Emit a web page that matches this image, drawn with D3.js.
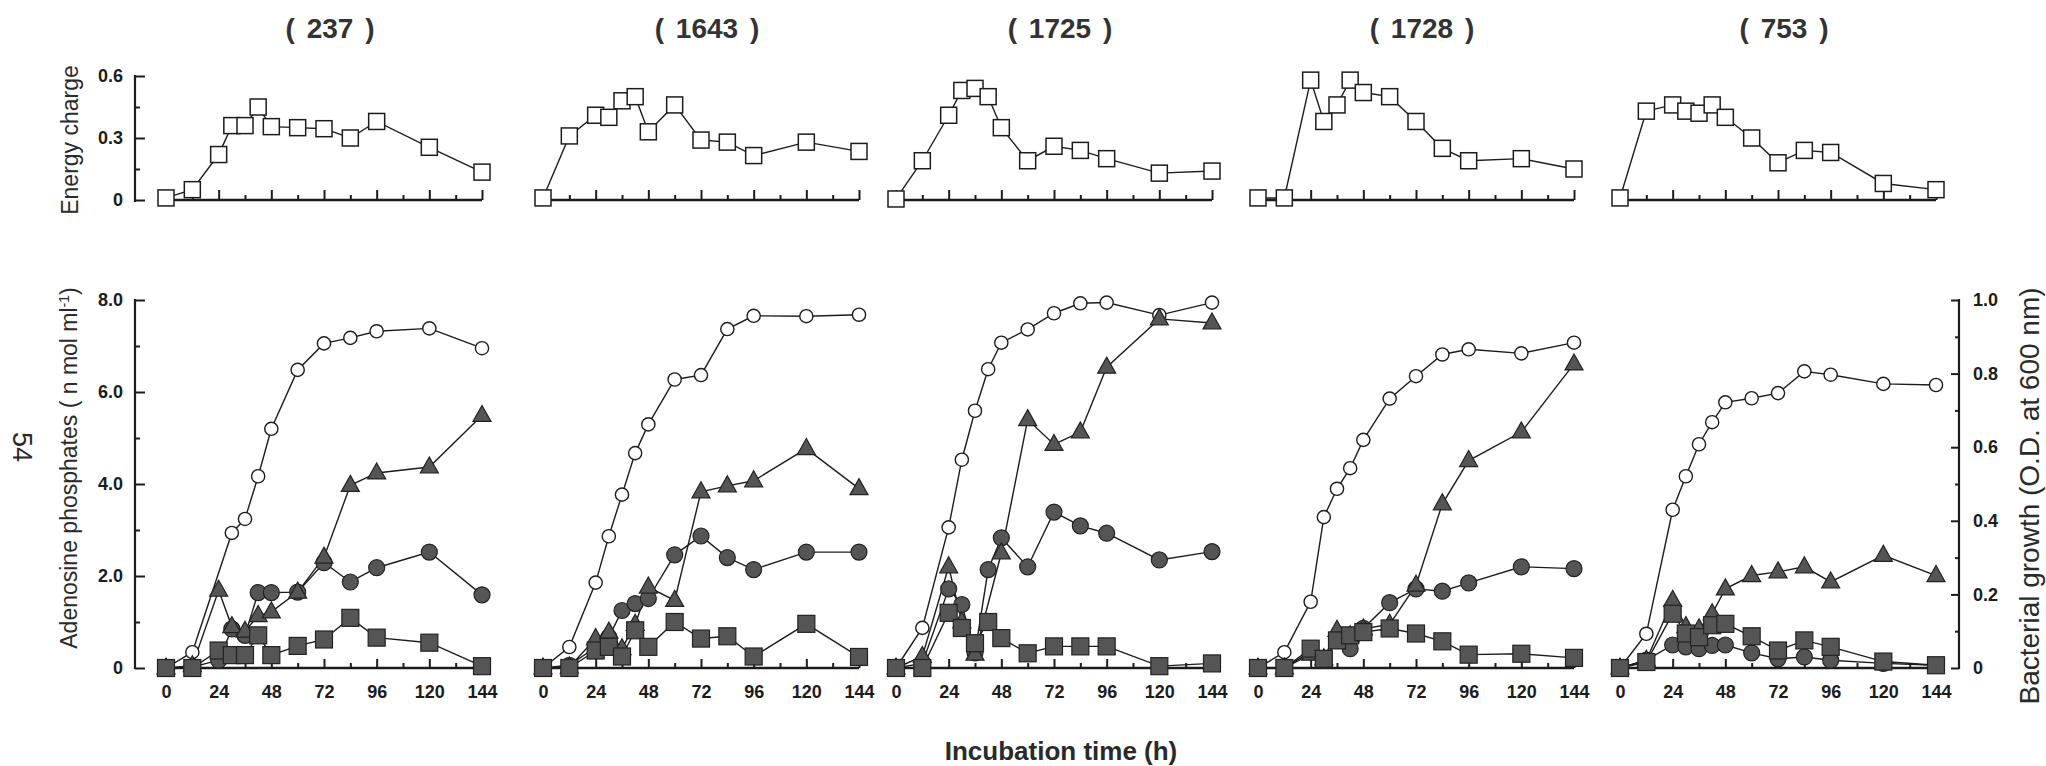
<!DOCTYPE html>
<html><head><meta charset="utf-8">
<script src="https://cdn.jsdelivr.net/npm/d3@7"></script>
<style>
body{margin:0;background:#fff;}
svg{display:block;font-family:"Liberation Sans",Arial,Helvetica,sans-serif;}
</style>
</head><body>
<svg id="chart" width="2046" height="766"></svg>
<script>
// ---------- data ----------
const strains = ["237", "1643", "1725", "1728", "753"];
const times = [0, 12, 24, 30, 36, 42, 48, 60, 72, 84, 96, 120, 144];

// energy charge (open squares, top row)
const energy237  = [0.01, 0.05, 0.22, 0.36, 0.36, 0.45, 0.355, 0.35, 0.345, 0.30, 0.38, 0.255, 0.135];
const energy1643 = [0.01, 0.31, 0.41, 0.40, 0.48, 0.50, 0.33, 0.46, 0.29, 0.28, 0.215, 0.28, 0.235];
const energy1725 = [0.005, 0.19, 0.41, 0.53, 0.54, 0.50, 0.35, 0.19, 0.26, 0.24, 0.20, 0.13, 0.14];
const energy1728 = [0.01, 0.01, 0.58, 0.38, 0.46, 0.58, 0.52, 0.50, 0.38, 0.25, 0.19, 0.20, 0.15];
const energy753  = [0.01, 0.43, 0.46, 0.43, 0.42, 0.46, 0.40, 0.30, 0.18, 0.24, 0.23, 0.08, 0.05];

// bacterial growth, O.D. at 600 nm (open circles, right axis)
const growth237  = [0, 0.043, null, 0.367, 0.405, 0.521, 0.65, 0.81, 0.882, 0.897, 0.915, 0.923, 0.869];
const growth1643 = [0, 0.057, 0.232, 0.358, 0.471, 0.584, 0.662, 0.784, 0.796, 0.921, 0.957, 0.956, 0.960];
const growth1725 = [0, 0.109, 0.382, 0.566, 0.699, 0.812, 0.884, 0.92, 0.964, 0.991, 0.993, 0.959, 0.993];
const growth1728 = [0, 0.043, 0.18, 0.41, 0.487, 0.543, 0.62, 0.732, 0.793, 0.852, 0.866, 0.855, 0.884];
const growth753  = [0, 0.093, 0.43, 0.521, 0.608, 0.668, 0.722, 0.733, 0.747, 0.806, 0.797, 0.772, 0.769];

// adenosine phosphates, nmol/ml (filled triangles / circles / squares, left axis)
const triangle237  = [0, 0.05, 1.69, 0.9, 0.8, 1.14, 1.22, 1.65, 2.41, 3.97, 4.24, 4.37, 5.49];
const triangle1643 = [0, 0.02, 0.64, 0.78, 0.42, 0.95, 1.76, 1.47, 3.83, 3.96, 4.07, 4.77, 3.90];
const triangle1725 = [0, 0.25, 2.2, 1.0, 0.3, null, 2.5, 5.4, 4.86, 5.13, 6.54, 7.59, 7.5];
const triangle1728 = [0, 0, 0.3, 0.2, 0.82, 0.7, 0.85, 0.95, 1.8, 3.57, 4.51, 5.13, 6.61];
const triangle753  = [0, 0.17, 1.47, 0.9, 0.85, 1.18, 1.72, 2.01, 2.09, 2.2, 1.87, 2.45, 2.01];

const circle237  = [0, 0.02, 0.17, 0.85, 0.71, 1.64, 1.64, 1.65, 2.29, 1.87, 2.18, 2.52, 1.59];
const circle1643 = [0, 0.06, 0.45, 0.67, 1.25, 1.40, 1.51, 2.46, 2.87, 2.40, 2.14, 2.52, 2.52];
const circle1725 = [0, 0.1, 1.72, 1.38, 0.33, 2.14, 2.83, 2.2, 3.39, 3.09, 2.93, 2.35, 2.53];
const circle1728 = [0, 0, 0.35, 0.17, 0.6, 0.42, 0.86, 1.42, 1.72, 1.67, 1.85, 2.2, 2.16];
const circle753  = [0, 0.17, 0.5, 0.46, 0.42, 0.49, 0.5, 0.33, 0.2, 0.24, 0.17, 0.1, 0.06];

const square237  = [0, 0, 0.38, 0.28, 0.28, 0.71, 0.28, 0.48, 0.62, 1.09, 0.66, 0.55, 0.04];
const square1643 = [0, 0, 0.38, 0.46, 0.25, 0.82, 0.46, 1.0, 0.64, 0.69, 0.25, 0.96, 0.24];
const square1725 = [0, 0, 1.2, 0.87, 0.54, 1.0, 0.65, 0.32, 0.47, 0.47, 0.47, 0.04, 0.1];
const square1728 = [0, 0, 0.42, 0.2, 0.6, 0.71, 0.78, 0.86, 0.75, 0.58, 0.29, 0.31, 0.22];
const square753  = [0, 0.13, 1.18, 0.75, 0.67, 0.93, 0.96, 0.69, 0.38, 0.6, 0.46, 0.14, 0.06];

// tick values / labels
const xMajorTicks = [0, 24, 48, 72, 96, 120, 144];
const xMinorTicks = [12, 36, 60, 84, 108, 132];
const energyTicks = [0, 0.3, 0.6];
const energyMinor = [0.15, 0.45];
const adenTicks = [0, 2, 4, 6, 8];
const adenMinor = [1, 3, 5, 7];
const growthTicks = [0, 0.2, 0.4, 0.6, 0.8, 1.0];
const growthMinor = [0.1, 0.3, 0.5, 0.7, 0.9];

const panels = [
  {name: strains[0], ec: energy237,  od: growth237,  tri: triangle237,  cir: circle237,  sq: square237},
  {name: strains[1], ec: energy1643, od: growth1643, tri: triangle1643, cir: circle1643, sq: square1643},
  {name: strains[2], ec: energy1725, od: growth1725, tri: triangle1725, cir: circle1725, sq: square1725},
  {name: strains[3], ec: energy1728, od: growth1728, tri: triangle1728, cir: circle1728, sq: square1728},
  {name: strains[4], ec: energy753,  od: growth753,  tri: triangle753,  cir: circle753,  sq: square753}
];

// ---------- layout ----------
const panelLeft = [166, 543, 896, 1258, 1620];
const panelW = 316;
const topY0 = 200, topY1 = 76;
const botY0 = 668, botY1 = 300;
const leftAxisX = 135;
const rightAxisX = 1959;
const INK = "#1c1c1c";
const FILL = "#555555";

const svg = d3.select("#chart");
const yTop = d3.scaleLinear().domain([0, 0.6]).range([topY0, topY1]);
const yBot = d3.scaleLinear().domain([0, 8]).range([botY0, botY1]);
const yOD = d3.scaleLinear().domain([0, 1]).range([botY0, botY1]);

function styleAxis(g, width) {
  g.selectAll(".domain").remove();
  g.selectAll(".tick line").attr("stroke", INK).attr("stroke-width", width);
  g.selectAll("text").attr("fill", INK).attr("font-size", 18).attr("font-weight", "bold");
}

function ptsOf(vals) {
  return times.map((t, i) => ({t: t, v: vals[i]})).filter(d => d.v !== null && d.v !== undefined);
}

function drawLine(g, x, y, vals) {
  g.append("path").datum(ptsOf(vals))
    .attr("d", d3.line().x(d => x(d.t)).y(d => y(d.v)))
    .attr("fill", "none").attr("stroke", INK).attr("stroke-width", 1.4);
}

function drawMarkers(g, x, y, vals, kind) {
  const sel = g.append("g").selectAll("g").data(ptsOf(vals)).join("g")
    .attr("transform", d => `translate(${x(d.t)},${y(d.v)})`);
  if (kind === "openSquare") {
    sel.append("rect").attr("x", -8).attr("y", -8).attr("width", 16).attr("height", 16)
      .attr("fill", "#fff").attr("stroke", INK).attr("stroke-width", 1.5);
  } else if (kind === "openCircle") {
    sel.append("circle").attr("r", 6.6).attr("fill", "#fff").attr("stroke", INK).attr("stroke-width", 1.4);
  } else if (kind === "filledCircle") {
    sel.append("circle").attr("r", 8).attr("fill", FILL).attr("stroke", "#222").attr("stroke-width", 1.2);
  } else if (kind === "triangle") {
    sel.append("path").attr("d", "M0,-10 L9,6 L-9,6 Z")
      .attr("fill", FILL).attr("stroke", "#222").attr("stroke-width", 1.2);
  } else if (kind === "filledSquare") {
    sel.append("rect").attr("x", -8.5).attr("y", -8.5).attr("width", 17).attr("height", 17)
      .attr("fill", FILL).attr("stroke", "#222").attr("stroke-width", 1.2);
  }
}

panels.forEach((p, i) => {
  const x0 = panelLeft[i];
  const x = d3.scaleLinear().domain([0, 144]).range([x0, x0 + panelW]);
  const g = svg.append("g");

  // title
  g.append("text").attr("x", x0 + panelW / 2 + 6).attr("y", 38)
    .attr("text-anchor", "middle").attr("font-size", 28).attr("font-weight", "bold")
    .attr("fill", "#333").attr("word-spacing", 4).text("( " + p.name + " )");

  // ---- top energy-charge plot ----
  const gt = g.append("g");
  gt.append("line").attr("x1", x(0)).attr("x2", x(144)).attr("y1", topY0).attr("y2", topY0)
    .attr("stroke", INK).attr("stroke-width", 2.6);
  gt.append("g").attr("transform", `translate(0,${topY0})`)
    .call(d3.axisBottom(x).tickValues(xMajorTicks).tickSize(-10).tickFormat(""))
    .call(a => styleAxis(a, 2));
  gt.append("g").attr("transform", `translate(0,${topY0})`)
    .call(d3.axisBottom(x).tickValues(xMinorTicks).tickSize(-5).tickFormat(""))
    .call(a => styleAxis(a, 2));
  drawLine(gt, x, yTop, p.ec);
  drawMarkers(gt, x, yTop, p.ec, "openSquare");

  // ---- bottom adenosine / growth plot ----
  const gb = g.append("g");
  gb.append("line").attr("x1", x(0)).attr("x2", x(144)).attr("y1", botY0).attr("y2", botY0)
    .attr("stroke", INK).attr("stroke-width", 2.6);
  gb.append("g").attr("transform", `translate(0,${botY0})`)
    .call(d3.axisBottom(x).tickValues(xMajorTicks).tickSize(-9).tickPadding(17).tickFormat(d3.format("d")))
    .call(a => styleAxis(a, 2));
  gb.append("g").attr("transform", `translate(0,${botY0})`)
    .call(d3.axisBottom(x).tickValues(xMinorTicks).tickSize(-5).tickFormat(""))
    .call(a => styleAxis(a, 2));

  drawLine(gb, x, yOD, p.od);
  drawLine(gb, x, yBot, p.cir);
  drawLine(gb, x, yBot, p.tri);
  drawLine(gb, x, yBot, p.sq);
  drawMarkers(gb, x, yOD, p.od, "openCircle");
  drawMarkers(gb, x, yBot, p.cir, "filledCircle");
  drawMarkers(gb, x, yBot, p.tri, "triangle");
  drawMarkers(gb, x, yBot, p.sq, "filledSquare");
});

// ---- left axes (first panel only) ----
const fmtTop = d => d === 0 ? "0" : d.toFixed(1);
const gTopAxis = svg.append("g").attr("transform", `translate(${leftAxisX},0)`);
gTopAxis.append("line").attr("x1", 0).attr("x2", 0).attr("y1", yTop(0.6) - 1).attr("y2", yTop(0) + 2)
  .attr("stroke", INK).attr("stroke-width", 2.2);
gTopAxis.append("g").call(d3.axisLeft(yTop).tickValues(energyTicks).tickSize(-10).tickPadding(12).tickFormat(fmtTop))
  .call(a => styleAxis(a, 2));
gTopAxis.append("g").call(d3.axisLeft(yTop).tickValues(energyMinor).tickSize(-5).tickFormat(""))
  .call(a => styleAxis(a, 2));

const gBotAxis = svg.append("g").attr("transform", `translate(${leftAxisX},0)`);
gBotAxis.append("line").attr("x1", 0).attr("x2", 0).attr("y1", yBot(8) - 1).attr("y2", yBot(0) + 1)
  .attr("stroke", INK).attr("stroke-width", 2.2);
gBotAxis.append("g").call(d3.axisLeft(yBot).tickValues(adenTicks).tickSize(-10).tickPadding(12).tickFormat(fmtTop))
  .call(a => styleAxis(a, 2));
gBotAxis.append("g").call(d3.axisLeft(yBot).tickValues(adenMinor).tickSize(-5).tickFormat(""))
  .call(a => styleAxis(a, 2));

// ---- right axis (last panel) ----
const gRight = svg.append("g").attr("transform", `translate(${rightAxisX},0)`);
gRight.append("line").attr("x1", 0).attr("x2", 0).attr("y1", yOD(1) - 1).attr("y2", yOD(0) + 1)
  .attr("stroke", INK).attr("stroke-width", 2.2);
gRight.append("g").call(d3.axisRight(yOD).tickValues(growthTicks).tickSize(-8).tickPadding(14).tickFormat(fmtTop))
  .call(a => styleAxis(a, 2));
gRight.append("g").call(d3.axisRight(yOD).tickValues(growthMinor).tickSize(-4).tickFormat(""))
  .call(a => styleAxis(a, 2));

// ---- axis titles ----
svg.append("text").attr("transform", "translate(78,140) rotate(-90)")
  .attr("text-anchor", "middle").attr("font-size", 23).attr("fill", "#2a2a2a").text("Energy charge");

const adenLabel = svg.append("text").attr("transform", "translate(77,468) rotate(-90)")
  .attr("text-anchor", "middle").attr("font-size", 23).attr("fill", "#2a2a2a");
adenLabel.append("tspan").text("Adenosine phosphates ( n mol ml");
adenLabel.append("tspan").attr("dy", -8).attr("font-size", 14).text("-1");
adenLabel.append("tspan").attr("dy", 8).text(")");

svg.append("text").attr("transform", "translate(2039,496) rotate(-90)")
  .attr("text-anchor", "middle").attr("font-size", 28).attr("fill", "#2a2a2a")
  .text("Bacterial growth (O.D. at 600 nm)");

svg.append("text").attr("x", 1061).attr("y", 760)
  .attr("text-anchor", "middle").attr("font-size", 26).attr("font-weight", "bold").attr("fill", "#2a2a2a")
  .text("Incubation time (h)");

svg.append("text").attr("transform", "translate(13,447) rotate(90)")
  .attr("text-anchor", "middle").attr("font-size", 27).attr("fill", "#2a2a2a").text("54");
</script>
</body></html>
